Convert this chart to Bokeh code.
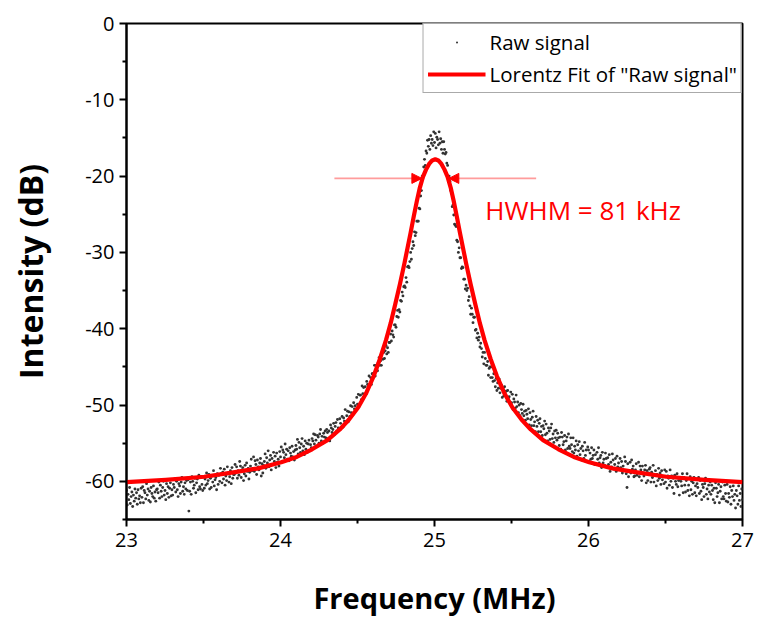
import numpy as np
from bokeh.plotting import figure
from bokeh.models import Range1d, FixedTicker, Arrow, NormalHead, Legend, LegendItem
from bokeh.core.properties import value
from bokeh.embed import file_html
from bokeh.resources import INLINE

# ---------------- data ----------------
# Raw signal: intensity (dB) sampled on a uniform sweep from 23 to 27 MHz
raw_db = [
    -61.2, -63.1, -61.7, -62.4, -60.8, -62.9, -62.0, -61.4, -63.3, -61.8, -62.6, -61.0, -62.2, -61.5, -63.0, -61.1, -62.3, -61.9, -62.8, -60.9,
    -62.1, -60.7, -62.8, -61.2, -61.5, -62.3, -60.3, -61.8, -61.0, -62.5, -61.3, -62.7, -60.8, -61.6, -62.0, -60.6, -62.2, -61.4, -62.6, -61.1,
    -61.0, -61.5, -60.1, -62.2, -60.5, -61.3, -62.0, -60.8, -60.0, -61.8, -61.2, -62.4, -60.3, -61.6, -60.7, -62.1, -60.9, -60.2, -61.9, -61.1,
    -61.8, -60.4, -60.8, -59.7, -61.4, -60.0, -61.1, -62.0, -60.3, -60.6, -61.6, -60.1, -59.5, -61.3, -60.7, -61.7, -60.2, -61.0, -59.9, -61.2,
    -59.8, -63.9, -61.3, -60.1, -61.7, -59.4, -60.0, -60.9, -60.5, -59.6, -61.5, -60.2, -59.7, -61.1, -59.2, -60.7, -61.0, -59.5, -60.4, -61.2,
    -59.4, -60.9, -59.7, -60.5, -58.9, -60.3, -59.9, -59.1, -61.0, -59.6, -60.8, -59.3, -60.1, -58.6, -60.6, -59.8, -59.5, -61.1, -59.0, -60.4,
    -59.2, -60.0, -58.3, -59.0, -60.2, -58.8, -59.7, -58.4, -60.5, -59.3, -59.9, -58.1, -58.9, -60.1, -59.4, -58.6, -60.3, -58.2, -59.6, -59.1,
    -59.1, -57.8, -58.9, -58.1, -59.6, -58.6, -59.2, -57.4, -58.0, -59.5, -58.5, -58.2, -59.9, -59.0, -57.9, -59.3, -57.6, -58.7, -58.3, -59.7,
    -58.8, -58.0, -57.1, -58.6, -58.3, -56.8, -58.7, -57.3, -57.8, -59.1, -57.2, -58.1, -58.5, -57.6, -57.0, -59.3, -57.7, -58.9, -57.9, -57.4,
    -56.4, -58.3, -56.9, -57.6, -56.0, -58.1, -57.2, -56.6, -58.5, -57.0, -57.8, -56.2, -57.4, -56.7, -58.2, -56.3, -57.5, -57.1, -58.0, -56.1,
    -56.8, -55.5, -57.4, -55.9, -56.2, -56.9, -55.1, -56.5, -55.8, -57.1, -56.0, -57.3, -55.6, -56.3, -56.7, -55.4, -56.8, -56.1, -57.2, -55.9,
    -55.3, -55.8, -54.5, -56.4, -54.9, -55.6, -56.2, -55.1, -54.4, -56.0, -55.4, -56.5, -54.7, -55.8, -55.0, -56.2, -55.1, -54.6, -56.0, -55.2,
    -55.6, -54.4, -54.7, -53.8, -55.1, -53.9, -54.6, -55.4, -54.0, -54.2, -55.0, -53.8, -53.2, -54.7, -54.1, -55.0, -53.7, -54.2, -53.4, -54.3,
    -53.2, -53.6, -54.4, -53.4, -54.7, -52.6, -53.0, -53.6, -53.2, -52.4, -53.9, -52.8, -52.3, -53.4, -51.9, -53.0, -53.2, -51.8, -52.4, -53.0,
    -51.5, -52.9, -51.7, -52.1, -50.6, -52.2, -51.4, -50.8, -52.2, -50.9, -51.5, -50.1, -51.0, -50.2, -51.3, -49.7, -50.5, -50.1, -50.6, -49.0,
    -49.9, -48.6, -50.2, -48.7, -48.7, -49.3, -47.5, -48.5, -47.7, -48.7, -47.6, -48.6, -46.9, -47.3, -47.5, -46.2, -47.3, -46.4, -47.3, -45.9,
    -45.9, -46.0, -44.8, -46.2, -44.8, -45.2, -45.5, -44.4, -43.8, -44.8, -44.2, -44.8, -43.2, -44.0, -43.1, -43.9, -42.9, -42.2, -43.3, -42.5,
    -43.1, -41.8, -41.8, -40.7, -41.6, -40.3, -40.8, -41.1, -39.5, -39.5, -39.8, -38.4, -37.6, -38.5, -37.5, -37.8, -36.3, -36.4, -35.2, -35.7,
    -34.5, -34.4, -34.6, -33.3, -33.9, -31.9, -31.8, -32.0, -31.2, -30.0, -30.9, -29.5, -28.6, -29.1, -27.3, -27.8, -27.4, -25.9, -25.9, -25.9,
    -24.2, -24.3, -22.6, -21.9, -20.0, -20.2, -18.8, -17.8, -18.6, -16.7, -17.0, -15.3, -16.1, -15.2, -16.5, -14.7, -15.7, -15.2, -16.0, -14.2,
    -15.6, -14.4, -16.3, -14.9, -15.2, -15.9, -14.2, -15.7, -15.1, -16.5, -15.5, -17.0, -15.5, -16.5, -17.1, -16.9, -18.3, -18.6, -20.0, -20.0,
    -20.7, -21.9, -21.8, -24.0, -23.8, -25.1, -26.3, -26.4, -26.6, -28.4, -28.6, -30.0, -29.4, -30.7, -30.7, -32.1, -31.9, -32.0, -33.5, -33.5,
    -34.8, -34.3, -35.0, -34.7, -36.3, -35.8, -37.0, -38.1, -37.3, -38.1, -39.2, -38.5, -38.5, -40.2, -40.1, -41.2, -40.6, -41.5, -41.1, -42.4,
    -41.9, -42.6, -43.7, -43.1, -44.6, -43.1, -43.9, -44.8, -44.8, -44.3, -46.1, -45.2, -45.0, -46.4, -45.0, -46.4, -46.9, -45.9, -46.8, -47.6,
    -46.5, -48.1, -47.1, -47.8, -46.6, -48.4, -47.8, -47.4, -49.0, -47.9, -48.8, -47.6, -48.7, -48.2, -49.5, -48.1, -49.1, -48.9, -49.7, -48.3,
    -49.7, -48.6, -50.6, -49.2, -49.6, -50.4, -48.7, -50.2, -49.6, -51.0, -50.0, -51.4, -49.8, -50.6, -51.1, -49.9, -51.4, -50.8, -52.0, -50.7,
    -51.2, -51.8, -50.5, -52.6, -51.0, -51.9, -52.7, -51.6, -50.8, -52.7, -52.2, -53.5, -51.5, -52.8, -52.0, -53.5, -52.4, -51.8, -53.5, -52.8,
    -54.0, -52.7, -53.1, -52.1, -53.9, -52.5, -53.7, -54.7, -53.0, -53.4, -54.5, -53.0, -52.5, -54.4, -53.8, -54.9, -53.4, -54.3, -53.3, -54.6,
    -53.7, -54.3, -55.3, -54.2, -55.8, -53.6, -54.2, -55.2, -54.8, -54.0, -55.9, -54.7, -54.2, -55.7, -53.8, -55.4, -55.7, -54.3, -55.2, -56.1,
    -54.3, -56.3, -55.4, -55.9, -54.7, -56.7, -55.2, -56.0, -54.8, -56.5, -55.7, -57.2, -55.4, -56.0, -57.0, -54.9, -56.6, -55.9, -57.4, -55.5,
    -55.9, -57.4, -56.3, -57.1, -55.6, -57.0, -56.6, -55.9, -57.8, -56.5, -57.7, -56.2, -57.1, -55.6, -57.6, -56.9, -56.6, -58.2, -56.2, -57.6,
    -57.1, -57.9, -56.3, -57.0, -58.2, -56.9, -57.8, -56.5, -58.7, -57.5, -58.1, -56.4, -57.2, -58.4, -57.8, -57.0, -58.7, -56.7, -58.1, -57.6,
    -58.3, -57.0, -58.2, -57.4, -58.9, -58.0, -58.6, -56.8, -57.4, -59.0, -60.8, -57.7, -59.4, -58.6, -57.5, -58.9, -57.2, -58.4, -58.0, -59.4,
    -59.3, -58.5, -57.7, -59.2, -58.9, -57.5, -59.4, -58.0, -58.5, -59.9, -58.0, -58.9, -59.3, -58.5, -57.9, -60.2, -58.6, -59.9, -58.9, -58.4,
    -58.2, -60.1, -58.8, -59.5, -57.9, -60.1, -59.2, -58.6, -60.6, -59.1, -59.9, -58.3, -59.6, -58.9, -60.4, -58.6, -59.8, -59.4, -60.3, -58.5,
    -60.1, -58.7, -60.9, -59.3, -59.6, -60.5, -58.5, -60.0, -59.3, -60.8, -59.6, -61.6, -59.2, -60.0, -60.4, -59.0, -60.7, -59.9, -61.8, -59.6,
    -60.0, -60.6, -59.0, -61.5, -59.5, -60.5, -61.4, -59.9, -59.0, -61.2, -60.5, -61.9, -59.4, -61.1, -60.0, -61.7, -60.2, -59.5, -61.5, -60.6,
    -61.9, -60.3, -60.8, -59.5, -61.6, -59.9, -61.3, -62.4, -60.4, -60.8, -62.0, -60.3, -59.6, -61.7, -61.0, -62.3, -60.5, -61.4, -60.1, -61.7,
    -60.5, -61.2, -62.4, -60.9, -62.8, -60.2, -60.9, -62.0, -61.5, -60.4, -62.8, -61.3, -60.7, -62.3, -60.1, -62.0, -62.3, -60.5, -61.6, -62.6,
    -60.4, -62.7, -61.6, -62.1, -60.7, -63.0, -61.2, -62.0, -60.6, -62.5, -61.7, -63.5, -61.2, -61.9, -63.0, -60.6, -62.5, -61.6, -63.3, -61.0,
    -62.4,
]
sweep_start_mhz = 23.0
sweep_stop_mhz = 27.0
raw_freq = np.linspace(sweep_start_mhz, sweep_stop_mhz, len(raw_db))

# Lorentz fit curve
fit_freq = [23.0, 23.255, 23.505, 23.705, 23.855, 24.005, 24.105, 24.205, 24.305, 24.385,
            24.445, 24.505, 24.555, 24.605, 24.645, 24.685, 24.715, 24.745, 24.775, 24.805,
            24.825, 24.845, 24.865, 24.885, 24.905, 24.925, 24.945, 24.965, 24.985, 25.005,
            25.025, 25.045, 25.065, 25.085, 25.105, 25.125, 25.145, 25.165, 25.185, 25.205,
            25.235, 25.265, 25.295, 25.325, 25.365, 25.405, 25.455, 25.505, 25.565, 25.625,
            25.705, 25.805, 25.905, 26.005, 26.155, 26.305, 26.505, 26.755, 27.0]
fit_db = [-60.1, -59.8, -59.4, -58.8, -58.3, -57.5, -56.8, -55.8, -54.6, -53.2,
          -51.9, -50.3, -48.5, -46.2, -44.0, -41.5, -39.3, -36.8, -34.2, -31.4,
          -29.4, -27.4, -25.3, -23.3, -21.5, -20.1, -19.15, -18.4, -17.95, -17.8,
          -17.95, -18.4, -19.15, -20.1, -21.5, -23.3, -25.3, -27.4, -29.4, -31.4,
          -34.2, -36.8, -39.3, -41.5, -44.0, -46.2, -48.5, -50.3, -51.9, -53.2,
          -54.6, -55.8, -56.8, -57.5, -58.3, -58.8, -59.4, -59.8, -60.1]

x_ticks = [23, 24, 25, 26, 27]
x_minor_ticks = [23.5, 24.5, 25.5, 26.5]
y_ticks = [0, -10, -20, -30, -40, -50, -60]
y_tick_labels = ["0", "-10", "-20", "-30", "-40", "-50", "-60"]
y_minor_ticks = [-5, -15, -25, -35, -45, -55, -65]

hwhm_level = -20.3
hwhm_left_tip = 24.918
hwhm_right_tip = 25.093
hwhm_left_line = [24.35, 24.918]
hwhm_right_line = [25.093, 25.66]
hwhm_label = "HWHM = 81 kHz"
hwhm_label_pos = (25.33, -24.5)

FONT = "Open Sans"

p = figure(width=758, height=626, output_backend="svg", toolbar_location=None,
           x_range=Range1d(23, 27), y_range=Range1d(-65, 0),
           min_border_left=126, min_border_right=16, min_border_top=23, min_border_bottom=107,
           background_fill_color="white", border_fill_color="white")
p.grid.visible = False
p.outline_line_color = "black"
p.outline_line_width = 2
p.outline_line_alpha = 1.0

p.xaxis.ticker = FixedTicker(ticks=x_ticks, minor_ticks=x_minor_ticks)
p.yaxis.ticker = FixedTicker(ticks=y_ticks, minor_ticks=y_minor_ticks)
p.yaxis.major_label_overrides = {float(t): l for t, l in zip(y_ticks, y_tick_labels)}

for ax in (p.xaxis, p.yaxis):
    ax.axis_line_width = 2
    ax.axis_line_color = "black"
    ax.major_tick_line_width = 2
    ax.minor_tick_line_width = 2
    ax.major_tick_line_color = "black"
    ax.minor_tick_line_color = "black"
    ax.major_tick_out = 7
    ax.major_tick_in = 0
    ax.minor_tick_out = 4
    ax.minor_tick_in = 0
    ax.major_label_text_font = FONT
    ax.major_label_text_font_size = "20px"
    ax.major_label_text_color = "black"
    ax.axis_label_text_font = FONT
    ax.axis_label_text_font_style = "bold"
    ax.axis_label_text_color = "black"

p.xaxis.axis_label = "Frequency (MHz)"
p.yaxis.axis_label = "Intensity (dB)"
p.xaxis.axis_label_text_font_size = "29px"
p.yaxis.axis_label_text_font_size = "32px"
p.xaxis.major_label_standoff = 6
p.yaxis.major_label_standoff = 5
p.xaxis.axis_label_standoff = 28
p.yaxis.axis_label_standoff = 30

# HWHM marker lines (light red)
p.line(hwhm_left_line, [hwhm_level, hwhm_level], line_color="#ff9c9c", line_width=1.6)
p.line(hwhm_right_line, [hwhm_level, hwhm_level], line_color="#ff9c9c", line_width=1.6)

raw_r = p.scatter(raw_freq, raw_db, marker="dot", size=11.5,
                  line_color="#333333", fill_color="#333333")
fit_r = p.line(fit_freq, fit_db, line_color="#ff0000", line_width=4.2, line_join="round")

p.add_layout(Arrow(end=NormalHead(size=10, fill_color="#ff0000", line_color="#ff0000", line_width=1),
                   x_start=hwhm_left_tip - 0.07, y_start=hwhm_level,
                   x_end=hwhm_left_tip, y_end=hwhm_level, line_alpha=0))
p.add_layout(Arrow(end=NormalHead(size=10, fill_color="#ff0000", line_color="#ff0000", line_width=1),
                   x_start=hwhm_right_tip + 0.07, y_start=hwhm_level,
                   x_end=hwhm_right_tip, y_end=hwhm_level, line_alpha=0))

p.text(x=[hwhm_label_pos[0]], y=[hwhm_label_pos[1]], text=[hwhm_label],
       text_color="#ff0000", text_font=value(FONT), text_font_size="26px",
       text_align="left", text_baseline="middle")

legend = Legend(items=[LegendItem(label="Raw signal", renderers=[raw_r]),
                       LegendItem(label='Lorentz Fit of "Raw signal"', renderers=[fit_r])],
                location="top_right")
legend.margin = 0
legend.padding = 4
legend.spacing = 4
legend.glyph_width = 58
legend.glyph_height = 20
legend.label_height = 20
legend.label_standoff = 4
legend.label_text_font = FONT
legend.label_text_font_size = "20.5px"
legend.label_text_color = "black"
legend.border_line_color = "#555555"
legend.border_line_width = 1
legend.background_fill_color = "white"
legend.background_fill_alpha = 1.0
p.add_layout(legend)

open("out.html", "w").write(file_html(p, INLINE))
